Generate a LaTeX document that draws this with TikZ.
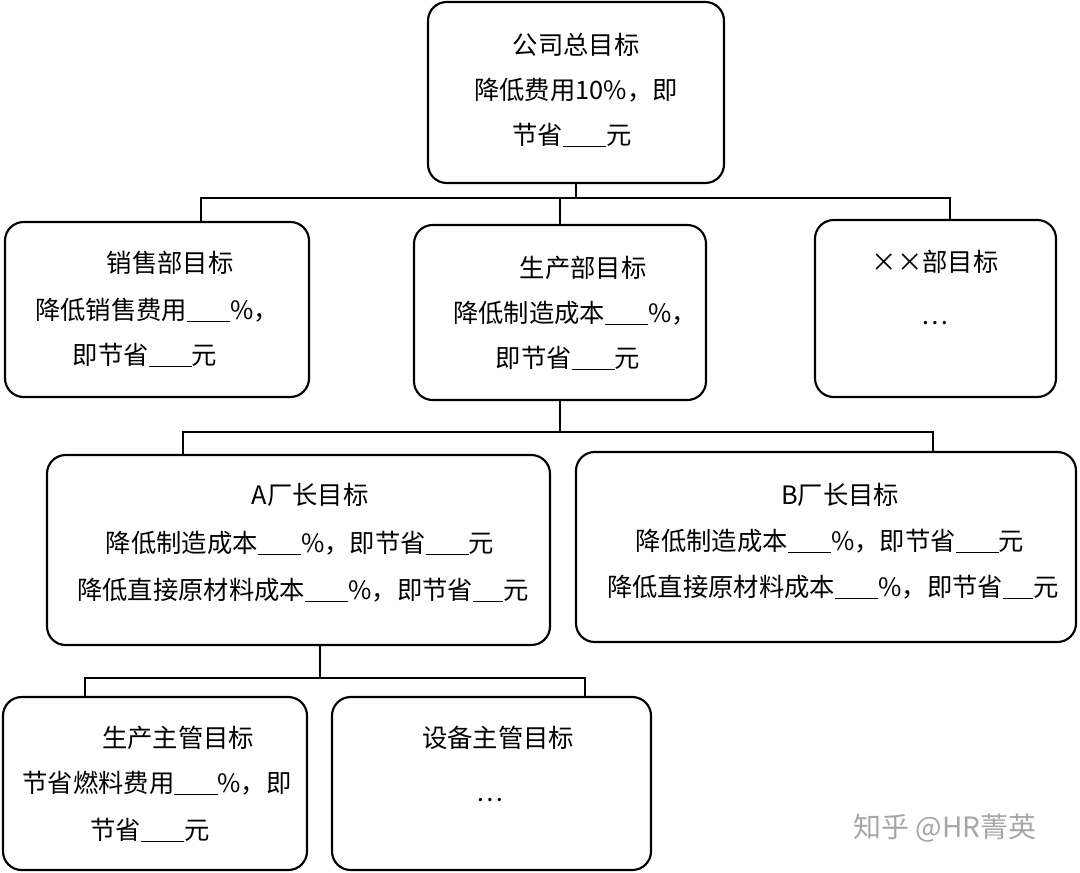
\documentclass[tikz,border=0pt]{standalone}
\usepackage{fontspec}
\setmainfont{Liberation Serif}
\newfontfamily\cjk{Noto Sans CJK SC}
\newcommand{\bl}{\rule[-2pt]{1.7em}{0.6pt}}
\newcommand{\bls}{\rule[-2pt]{1.2em}{0.6pt}}
\begin{document}
\begin{tikzpicture}[x=0.75pt,y=-0.75pt,
  box/.style={draw,line width=1.6pt,rounded corners=14pt},
  txt/.style={font=\cjk\fontsize{19}{21}\selectfont,inner sep=0pt},
  con/.style={line width=0.9pt}]
\useasboundingbox (0,0) rectangle (1080,872);
\draw[box] (428,2) rectangle (724,183); \node[coordinate] (tb) at (576,183) {};
\node[txt] at (576,45) {公司总目标};
\node[txt] at (576,90) {降低费用10\%，即};
\node[txt] at (572,135) {节省\bl 元};
\draw[box] (5,222) rectangle (309,397);
\node[txt] at (170,263) {销售部目标};
\node[txt] at (157,310) {降低销售费用\bl\%，};
\node[txt] at (145,355) {即节省\bl 元};
\draw[box] (414,225) rectangle (706,400);
\node[txt] at (583,268) {生产部目标};
\node[txt] at (575,313) {降低制造成本\bl\%，};
\node[txt] at (568,358) {即节省\bl 元};
\draw[box] (815,220) rectangle (1056,397);
\node[txt] at (935,262) {××部目标};
\node[txt] at (935,323) {…};
\draw[box] (47,455) rectangle (550,645);
\node[txt] at (310,495) {A厂长目标};
\node[txt] at (300,543) {降低制造成本\bl\%，即节省\bl 元};
\node[txt] at (303,590) {降低直接原材料成本\bl\%，即节省\bls 元};
\draw[box] (576,452) rectangle (1076,642);
\node[txt] at (840,495) {B厂长目标};
\node[txt] at (830,541) {降低制造成本\bl\%，即节省\bl 元};
\node[txt] at (833,587) {降低直接原材料成本\bl\%，即节省\bls 元};
\draw[box] (3,697) rectangle (307,870);
\node[txt] at (178,738) {生产主管目标};
\node[txt] at (157,783) {节省燃料费用\bl\%，即};
\node[txt] at (150,830) {节省\bl 元};
\draw[box] (332,697) rectangle (651,870);
\node[txt] at (498,738) {设备主管目标};
\node[txt] at (490,800) {…};
\coordinate (j1) at (576,198); \coordinate (j2) at (560,432); \coordinate (j3) at (320,678);
\draw[con] (tb) -- (j1);
\draw[con] (201,222) -- (201,198) -- (950,198) -- (950,220);
\draw[con] (560,198) -- (560,225);
\draw[con] (560,400) -- (j2);
\draw[con] (183,455) -- (183,432) -- (933,432) -- (933,452);
\draw[con] (320,645) -- (j3);
\draw[con] (85,697) -- (85,678) -- (585,678) -- (585,697);
\node[txt,text=gray!70,font=\cjk\fontsize{21}{22}\selectfont] at (945,828) {知乎 @HR菁英};
\end{tikzpicture}
\end{document}
